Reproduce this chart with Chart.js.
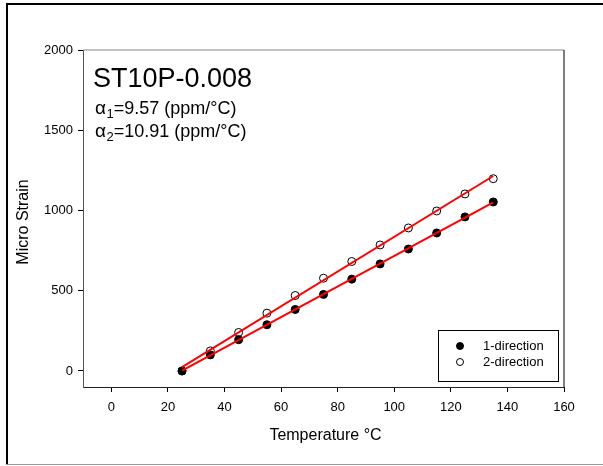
<!DOCTYPE html>
<html>
<head>
<meta charset="utf-8">
<script src="https://cdn.jsdelivr.net/npm/chart.js@4"></script>
<style>
html,body{margin:0;padding:0;background:#fff;}
canvas{display:block;}
</style>
</head>
<body>
<canvas id="c" width="603" height="466"></canvas>
<script>
const temps = [25, 35, 45, 55, 65, 75, 85, 95, 105, 115, 125, 135];
const dir1 = [0, 100, 195, 288, 383, 477, 572, 667, 760, 860, 960, 1053];
const dir2 = [0, 125, 240, 360, 470, 578, 682, 785, 891, 997, 1103, 1198];
const xTicks = [0, 20, 40, 60, 80, 100, 120, 140, 160];
const yTicks = [0, 500, 1000, 1500, 2000];
const seriesNames = ['1-direction', '2-direction'];
const titleText = 'ST10P-0.008';
const alphaLabels = [['1', '=9.57 (ppm/°C)'], ['2', '=10.91 (ppm/°C)']];
const xTitle = 'Temperature °C';
const yTitle = 'Micro Strain';

function fit(xs, ys) {
  const n = xs.length;
  const mx = xs.reduce((a, b) => a + b, 0) / n;
  const my = ys.reduce((a, b) => a + b, 0) / n;
  let sxy = 0, sxx = 0;
  for (let i = 0; i < n; i++) { sxy += (xs[i] - mx) * (ys[i] - my); sxx += (xs[i] - mx) ** 2; }
  const m = sxy / sxx, b = my - m * mx;
  const x0 = xs[0], x1 = xs[n - 1];
  return [{x: x0, y: m * x0 + b}, {x: x1, y: m * x1 + b}];
}
const pts = ys => temps.map((t, i) => ({x: t, y: ys[i]}));

const FONT = "'Liberation Sans', Arial, sans-serif";

const decor = {
  id: 'decor',
  afterDraw(chart) {
    const ctx = chart.ctx;
    const a = chart.chartArea;
    ctx.save();
    // outer frame
    ctx.fillStyle = '#000';
    ctx.fillRect(6, 3, 2, 462);
    ctx.fillRect(6, 3, 597, 2);
    ctx.fillStyle = '#999';
    ctx.fillRect(6, 464, 597, 1);
    // top and right spines
    ctx.fillStyle = '#888';
    ctx.fillRect(a.left, a.top - 0.5, a.right - a.left, 1);
    ctx.fillStyle = '#000';
    ctx.fillRect(a.right - 0.5, a.top, 1, a.bottom - a.top);
    // annotation
    ctx.fillStyle = '#000';
    ctx.textBaseline = 'alphabetic';
    ctx.textAlign = 'left';
    ctx.font = '27px ' + FONT;
    ctx.fillText(titleText, a.left + 10, a.top + 37);
    const base = [a.top + 64, a.top + 87];
    alphaLabels.forEach((lab, i) => {
      let x = a.left + 12;
      const y = base[i];
      ctx.font = '19px ' + FONT;
      ctx.fillText('α', x, y);
      x += ctx.measureText('α').width + 0.5;
      ctx.font = '13px ' + FONT;
      ctx.fillText(lab[0], x, y + 4);
      x += ctx.measureText(lab[0]).width;
      ctx.font = '18px ' + FONT;
      ctx.fillText(lab[1], x, y);
    });
    // legend
    const lx = 438, ly = 330, lw = 120, lh = 51;
    ctx.fillStyle = '#fff';
    ctx.fillRect(lx, ly, lw, lh);
    ctx.strokeStyle = '#000';
    ctx.lineWidth = 1;
    ctx.strokeRect(lx + 0.5, ly + 0.5, lw, lh);
    const rows = [ly + 16, ly + 32];
    chart.data.datasets.slice(0, 2).forEach((ds, i) => {
      ctx.beginPath();
      ctx.arc(lx + 22, rows[i], 3.5, 0, Math.PI * 2);
      ctx.fillStyle = ds.pointBackgroundColor;
      ctx.fill();
      ctx.strokeStyle = '#000';
      ctx.lineWidth = 1;
      ctx.stroke();
      ctx.fillStyle = '#000';
      ctx.font = '13px ' + FONT;
      ctx.textBaseline = 'middle';
      ctx.fillText(seriesNames[i], lx + 45, rows[i]);
    });
    // axis titles
    ctx.font = '16px ' + FONT;
    ctx.textAlign = 'center';
    ctx.textBaseline = 'middle';
    ctx.fillStyle = '#000';
    ctx.fillText(xTitle, (a.left + a.right) / 2 + 2, 436);
    ctx.translate(24, 222);
    ctx.rotate(-Math.PI / 2);
    ctx.fillText(yTitle, 0, 0);
    ctx.restore();
  }
};

new Chart(document.getElementById('c'), {
  type: 'scatter',
  data: {
    datasets: [
      {label: seriesNames[0], data: pts(dir1), pointRadius: 4, pointBackgroundColor: '#000', pointBorderColor: '#000', pointBorderWidth: 1, order: 2},
      {label: seriesNames[1], data: pts(dir2), pointRadius: 4, pointBackgroundColor: '#fff', pointBorderColor: '#000', pointBorderWidth: 1, order: 2},
      {type: 'line', label: 'fit1', data: fit(temps, dir1), borderColor: '#ff0000', borderWidth: 2, pointRadius: 0, fill: false, order: 1},
      {type: 'line', label: 'fit2', data: fit(temps, dir2), borderColor: '#ff0000', borderWidth: 2, pointRadius: 0, fill: false, order: 1}
    ]
  },
  options: {
    responsive: false,
    animation: false,
    layout: {padding: {top: 50, right: 39, left: 0, bottom: 0}},
    plugins: {legend: {display: false}, tooltip: {enabled: false}},
    scales: {
      x: {
        type: 'linear', min: -10, max: 160,
        afterBuildTicks: s => { s.ticks = xTicks.map(v => ({value: v})); },
        afterFit: s => { s.height = 79; },
        grid: {display: true, drawOnChartArea: false, drawTicks: true, tickLength: 5, color: '#000'},
        border: {display: true, color: '#222', width: 1},
        ticks: {color: '#000', font: {family: FONT, size: 13}, padding: 8, maxRotation: 0, autoSkip: false, callback: v => String(v)}
      },
      y: {
        type: 'linear', min: -100, max: 2000,
        afterBuildTicks: s => { s.ticks = yTicks.map(v => ({value: v})); },
        afterFit: s => { s.width = 83; },
        grid: {display: true, drawOnChartArea: false, drawTicks: true, tickLength: 5, color: '#000'},
        border: {display: true, color: '#555', width: 1},
        ticks: {color: '#000', font: {family: FONT, size: 13}, padding: 5, autoSkip: false, callback: v => String(v)}
      }
    }
  },
  plugins: [decor]
});
</script>
</body>
</html>
